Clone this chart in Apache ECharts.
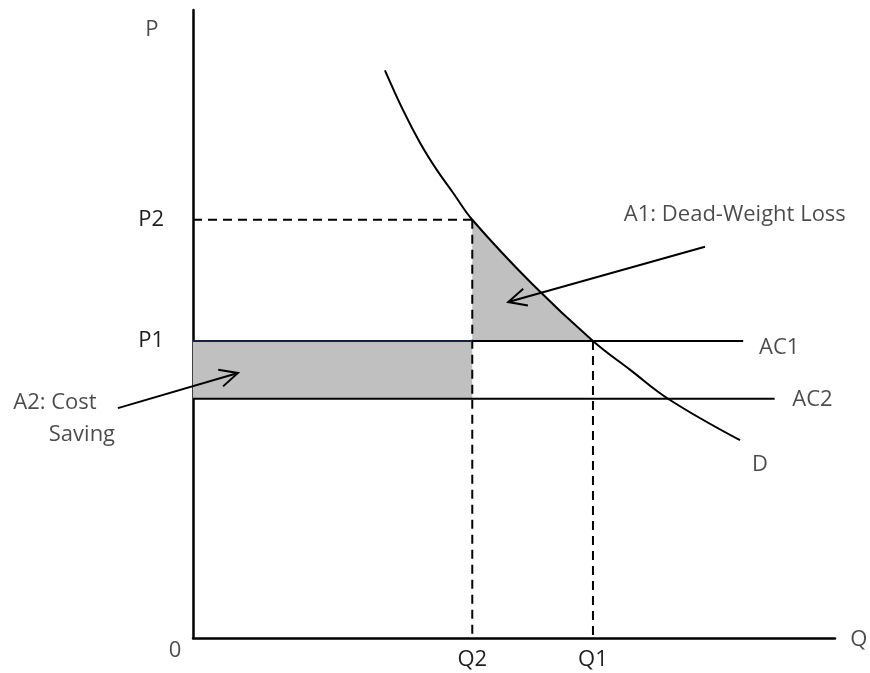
<!DOCTYPE html>
<html>
<head>
<meta charset="utf-8">
<script src="https://cdn.jsdelivr.net/npm/echarts@6/dist/echarts.min.js"></script>
<style>
  html, body { margin: 0; padding: 0; background: #fff; }
  #chart { width: 870px; height: 673px; }
</style>
</head>
<body>
<div id="chart"></div>
<script>
// quantity / price levels (axis units 0-100)
const qValues = [43.5, 62.3];
const qLabels = ['Q2', 'Q1'];
const pValues = [66.6, 47.3];
const pLabels = ['P2', 'P1'];
const ac1 = 47.3;
const ac2 = 38.1;
const acEnds = [85.7, 90.6];

// demand curve
const demandQ = [29.9, 32.7, 35.4, 38.0, 40.5, 43.5, 52.8, 62.3, 68.1, 74.3, 85.2];
const demandP = [90.4, 84.1, 78.8, 74.5, 70.9, 66.6, 56.4, 47.3, 42.7, 37.9, 31.5];

// arrows: [fromQ, fromP, toQ, toP]
const arrows = [
  [79.75, 62.3, 49.1, 53.5],
  [-11.7, 36.6, 7.0, 42.2]
];

// free text: [q, p, text]
const notes = [
  [-6.4, 96.8, 'P'],
  [-2.8, -2.0, '0'],
  [103.7, -0.3, 'Q'],
  [91.3, 46.3, 'AC1'],
  [96.5, 37.9, 'AC2'],
  [88.3, 27.6, 'D'],
  [84.4, 67.4, 'A1: Dead-Weight Loss'],
  [-21.5, 37.4, 'A2: Cost'],
  [-17.3, 32.3, 'Saving']
];

const FONT = 'Open Sans';
const SIZE = 22;
const TXT = '#1e1e1e';

const demand = demandQ.map((q, i) => [q, demandP[i]]);

// shaded areas
const dwl = [[qValues[0], pValues[0]]]
  .concat(demand.filter(d => d[0] > qValues[0] && d[0] <= qValues[1]))
  .concat([[qValues[0], ac1]]);
const saving = [[0, ac2], [qValues[0], ac2], [qValues[0], ac1], [0, ac1]];
const polys = [dwl, saving];

function labelFor(values, labels) {
  return function (v) {
    let best = 0;
    values.forEach((x, i) => { if (Math.abs(x - v) < Math.abs(values[best] - v)) best = i; });
    return labels[best];
  };
}

function seg(a, b, dashed, color) {
  return {
    type: 'line', data: [a, b], symbol: 'none', silent: true, z: 3,
    lineStyle: { color: color || '#000', width: 2, type: dashed ? [9, 6] : 'solid' }
  };
}

const series = [
  {
    type: 'custom', z: 1, silent: true,
    data: [[0], [1]],
    renderItem: function (params, api) {
      const pts = polys[params.dataIndex].map(p => api.coord(p));
      return { type: 'polygon', shape: { points: pts }, style: { fill: '#c0c0c0' } };
    }
  },
  seg([0, pValues[0]], [qValues[0], pValues[0]], true),
  seg([qValues[0], pValues[0]], [qValues[0], 0], true),
  seg([qValues[1], pValues[1]], [qValues[1], 0], true),
  seg([qValues[0], ac1], [acEnds[0], ac1], false),
  seg([0, ac1], [qValues[0], ac1], false, '#14213d'),
  seg([0, ac2], [acEnds[1], ac2], false),
  {
    type: 'line', data: demand, smooth: 0.4, symbol: 'none', silent: true, z: 4,
    lineStyle: { color: '#000', width: 2 }
  },
  {
    type: 'custom', z: 5, silent: true, clip: false,
    data: arrows,
    renderItem: function (params, api) {
      const s = api.coord([api.value(0), api.value(1)]);
      const e = api.coord([api.value(2), api.value(3)]);
      const ang = Math.atan2(e[1] - s[1], e[0] - s[0]);
      const L = 20, a = Math.PI / 7;
      const p1 = [e[0] - L * Math.cos(ang - a), e[1] - L * Math.sin(ang - a)];
      const p2 = [e[0] - L * Math.cos(ang + a), e[1] - L * Math.sin(ang + a)];
      return {
        type: 'group',
        children: [
          { type: 'line', shape: { x1: s[0], y1: s[1], x2: e[0], y2: e[1] }, style: { stroke: '#000', lineWidth: 2 } },
          { type: 'polyline', shape: { points: [p1, e, p2] }, style: { stroke: '#000', fill: null, lineWidth: 2 } }
        ]
      };
    }
  },
  {
    type: 'scatter', z: 6, silent: true, clip: false, symbolSize: 0,
    data: notes,
    label: {
      show: true, position: 'inside', formatter: p => p.value[2],
      color: TXT, fontFamily: FONT, fontSize: SIZE
    }
  }
];

const option = {
  animation: false,
  backgroundColor: '#fff',
  grid: { left: 193, right: 35, top: 10, bottom: 35 },
  xAxis: {
    type: 'value', min: 0, max: 100,
    axisLine: { show: true, onZero: false, lineStyle: { color: '#000', width: 2.5 } },
    axisTick: { show: false },
    splitLine: { show: false },
    axisLabel: {
      customValues: qValues, formatter: labelFor(qValues, qLabels),
      color: TXT, fontFamily: FONT, fontSize: SIZE, margin: 11
    }
  },
  yAxis: {
    type: 'value', min: 0, max: 100,
    axisLine: { show: true, onZero: false, lineStyle: { color: '#000', width: 2.5 } },
    axisTick: { show: false },
    splitLine: { show: false },
    axisLabel: {
      customValues: pValues, formatter: labelFor(pValues, pLabels),
      color: TXT, fontFamily: FONT, fontSize: SIZE, margin: 29
    }
  },
  series: series
};

const chart = echarts.init(document.getElementById('chart'));
chart.setOption(option);
</script>
</body>
</html>
